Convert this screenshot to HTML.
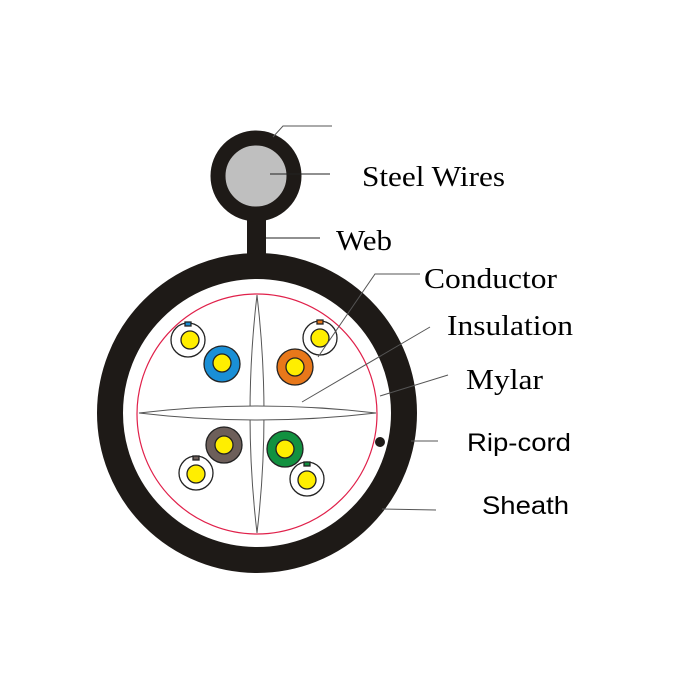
<!DOCTYPE html>
<html><head><style>body{margin:0;background:#fff}svg{display:block}</style></head><body>
<svg width="700" height="700" viewBox="0 0 700 700" xmlns="http://www.w3.org/2000/svg">
<rect width="700" height="700" fill="#fff"/>
<rect x="247" y="215" width="19" height="50" fill="#1e1a17"/>
<circle cx="256" cy="176" r="38" fill="#bfbfbf" stroke="#1e1a17" stroke-width="15"/>
<circle cx="257" cy="413" r="147" fill="#fff" stroke="#1e1a17" stroke-width="26"/>
<circle cx="257" cy="414" r="120" fill="none" stroke="#e0204a" stroke-width="1.2"/>
<path d="M257,295 Q243,414 257,533 Q271,414 257,295 Z" fill="#fff" stroke="#555" stroke-width="1"/>
<path d="M139,413 Q257,399 376,413 Q257,427 139,413 Z" fill="#fff" stroke="#555" stroke-width="1"/>
<rect x="251" y="407" width="12" height="12" fill="#fff"/>
<g stroke="#222" stroke-width="1.3">
<circle cx="188" cy="340" r="17" fill="#fff"/><rect x="185" y="322" width="6" height="4" fill="#1a8fd6"/><circle cx="190" cy="340" r="9" fill="#ffee00"/>
<circle cx="222" cy="364" r="18" fill="#1a8fd6"/><circle cx="222" cy="363" r="9" fill="#ffee00"/>
<circle cx="320" cy="338" r="17" fill="#fff"/><rect x="317" y="320" width="6" height="4" fill="#e8781a"/><circle cx="320" cy="338" r="9" fill="#ffee00"/>
<circle cx="295" cy="367" r="18" fill="#e8781a"/><circle cx="295" cy="367" r="9" fill="#ffee00"/>
<circle cx="224" cy="445" r="18" fill="#6d5f5a"/><circle cx="224" cy="445" r="9" fill="#ffee00"/>
<circle cx="196" cy="473" r="17" fill="#fff"/><rect x="193" y="456" width="6" height="4" fill="#6d5f5a"/><circle cx="196" cy="474" r="9" fill="#ffee00"/>
<circle cx="285" cy="449" r="18" fill="#129140"/><circle cx="285" cy="449" r="9" fill="#ffee00"/>
<circle cx="307" cy="479" r="17" fill="#fff"/><rect x="304" y="462" width="6" height="4" fill="#129140"/><circle cx="307" cy="480" r="9" fill="#ffee00"/>
</g>
<circle cx="380" cy="442" r="5" fill="#1e1a17"/>
<g stroke="#555" stroke-width="1" fill="none">
<polyline points="273,137 283,126 332,126"/>
<line x1="270" y1="174" x2="330" y2="174" stroke="#222"/>
<line x1="266" y1="238" x2="320" y2="238" stroke="#222"/>
<polyline points="318,357 375,274 420,274"/>
<line x1="302" y1="402" x2="430" y2="327"/>
<line x1="380" y1="396" x2="448" y2="375"/>
<line x1="411" y1="441" x2="438" y2="441"/>
<line x1="382" y1="509" x2="436" y2="510"/>
</g>
<g font-family="Liberation Serif, serif" font-size="29" fill="#000">
<text x="362" y="186" textLength="143" lengthAdjust="spacingAndGlyphs">Steel Wires</text>
<text x="336" y="250" textLength="56" lengthAdjust="spacingAndGlyphs">Web</text>
<text x="424" y="288" textLength="133" lengthAdjust="spacingAndGlyphs">Conductor</text>
<text x="447" y="335" textLength="126" lengthAdjust="spacingAndGlyphs">Insulation</text>
<text x="466" y="389" textLength="77" lengthAdjust="spacingAndGlyphs">Mylar</text>
</g>
<g font-family="Liberation Sans, sans-serif" font-size="25" fill="#000">
<text x="467" y="451" textLength="104" lengthAdjust="spacingAndGlyphs">Rip-cord</text>
<text x="482" y="514" textLength="87" lengthAdjust="spacingAndGlyphs">Sheath</text>
</g>
</svg>
</body></html>
